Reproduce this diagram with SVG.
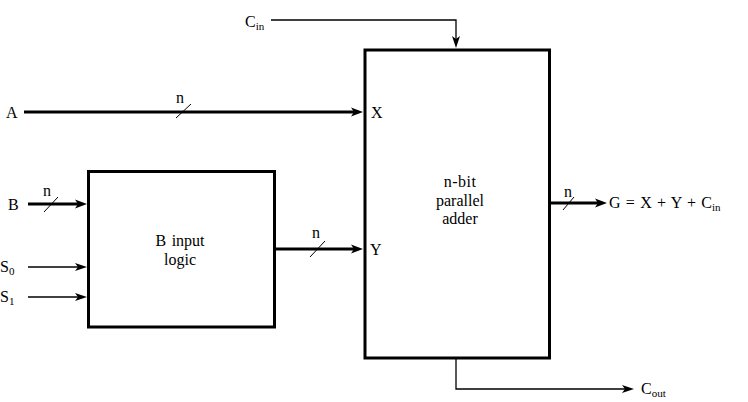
<svg xmlns="http://www.w3.org/2000/svg" width="748" height="402" viewBox="0 0 748 402">
<style>
text{font-family:"Liberation Serif","Times New Roman",serif;font-size:16px;fill:#000}
.sub{font-size:11px}
.box{fill:#fff;stroke:#000;stroke-width:3}
.thick{stroke:#000;stroke-width:3;fill:none}
.thin{stroke:#000;stroke-width:1.3;fill:none}
.slash{stroke:#000;stroke-width:1;fill:none}
</style>
<defs>
<marker id="ah" markerUnits="userSpaceOnUse" markerWidth="20" markerHeight="20" viewBox="-10 -10 20 20" refX="0" refY="0" orient="auto" overflow="visible">
<path d="M8,0 L-4,-4.5 L-1,0 L-4,4.5 Z" fill="#000"/>
</marker>
<marker id="as" markerUnits="userSpaceOnUse" markerWidth="20" markerHeight="20" viewBox="-10 -10 20 20" refX="0" refY="0" orient="auto" overflow="visible">
<path d="M4,0 L-8,-4 L-5,0 L-8,4 Z" fill="#000"/>
</marker>
</defs>
<rect width="748" height="402" fill="#fff"/>

<g id="adder">
<rect class="box" x="365" y="50" width="184.5" height="308"/>
<text x="460" y="187" text-anchor="middle" letter-spacing="0.5">n-bit</text>
<text x="460" y="205.5" text-anchor="middle">parallel</text>
<text x="460" y="224" text-anchor="middle">adder</text>
<text x="371" y="118">X</text>
<text x="370" y="255">Y</text>
</g>

<g id="b-input-logic">
<rect class="box" x="88.5" y="171.5" width="186" height="155.5"/>
<text x="180" y="246" text-anchor="middle" font-size="16.5" word-spacing="1.5">B input</text>
<text x="180" y="265" text-anchor="middle" font-size="16.5">logic</text>
</g>

<g id="labels">
<text x="6" y="118">A</text>
<text x="8" y="210">B</text>
<text x="0" y="272">S<tspan class="sub" dy="3">0</tspan></text>
<text x="0" y="302">S<tspan class="sub" dy="3">1</tspan></text>
<text x="245" y="27">C<tspan class="sub" dy="3">in</tspan></text>
<text x="609" y="208" word-spacing="1.3">G = X + Y + C<tspan class="sub" dy="3">in</tspan></text>
<text x="641" y="394">C<tspan class="sub" dy="3">out</tspan></text>
<text x="176" y="103">n</text>
<text x="43" y="196">n</text>
<text x="312" y="238">n</text>
<text x="564" y="197">n</text>
</g>

<g id="connectors">
<line class="thick" x1="24" y1="112" x2="355" y2="112" marker-end="url(#ah)"/>
<line class="slash" x1="176" y1="118" x2="191" y2="104"/>
<line class="thick" x1="28" y1="204" x2="79" y2="204" marker-end="url(#ah)"/>
<line class="slash" x1="44" y1="212" x2="58" y2="197"/>
<line class="thin" x1="28" y1="267" x2="83" y2="267" marker-end="url(#as)"/>
<line class="thin" x1="28" y1="297" x2="83" y2="297" marker-end="url(#as)"/>
<line class="thick" x1="276" y1="249" x2="355" y2="249" marker-end="url(#ah)"/>
<line class="slash" x1="310" y1="257" x2="325" y2="241"/>
<polyline class="thin" points="271,20 456,20 456,44" marker-end="url(#as)"/>
<line class="thick" x1="551" y1="203" x2="599" y2="203" marker-end="url(#ah)"/>
<line class="slash" x1="563" y1="210" x2="574" y2="197"/>
<polyline class="thin" points="456,359 456,389 630,389" marker-end="url(#as)"/>
</g>
</svg>
